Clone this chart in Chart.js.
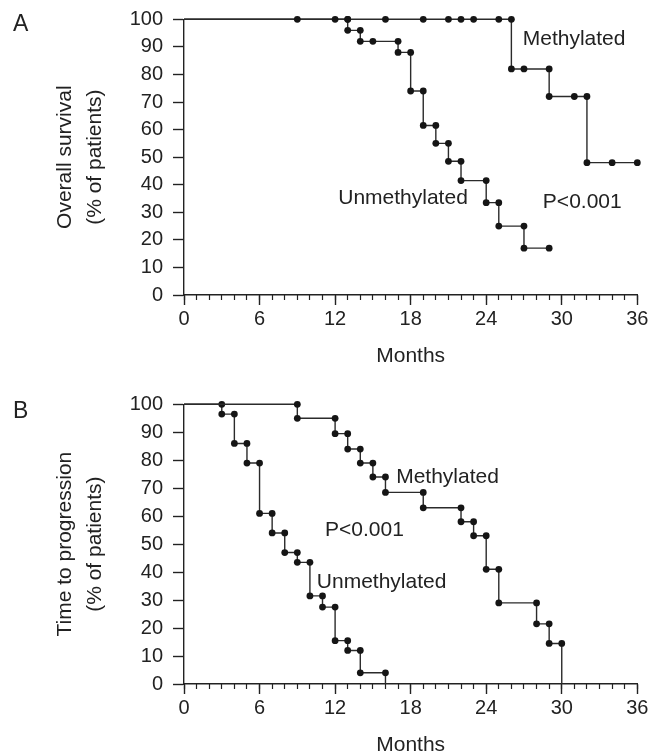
<!DOCTYPE html>
<html>
<head>
<meta charset="utf-8">
<script src="https://cdn.jsdelivr.net/npm/chart.js@4.4.1/dist/chart.umd.min.js"></script>
<style>
  html, body { margin: 0; padding: 0; background: #fff; overflow: hidden; }
  canvas { position: absolute; left: 0; }
  #chartA { top: 0; }
  #chartB { top: 376px; }
</style>
</head>
<body>
<canvas id="chartA" width="649" height="375"></canvas>
<canvas id="chartB" width="649" height="388"></canvas>
<script>
// step-curve vertices (months, % of patients)
const osMethylatedMonths = [0, 9, 12, 13, 16, 19, 21, 22, 23, 25, 26, 26, 27, 29, 29, 31, 32, 32, 34, 36];
const osMethylatedPct    = [100, 100, 100, 100, 100, 100, 100, 100, 100, 100, 100, 82, 82, 82, 72, 72, 72, 48, 48, 48];

const osUnmethylatedMonths = [0, 13, 13, 14, 14, 15, 17, 17, 18, 18, 19, 19, 20, 20, 21, 21, 22, 22, 24, 24, 25, 25, 27, 27, 29];
const osUnmethylatedPct    = [100, 100, 96, 96, 92, 92, 92, 88, 88, 74, 74, 61.5, 61.5, 55, 55, 48.5, 48.5, 41.5, 41.5, 33.5, 33.5, 25, 25, 17, 17];

const ttpMethylatedMonths = [0, 9, 9, 12, 12, 13, 13, 14, 14, 15, 15, 16, 16, 19, 19, 22, 22, 23, 23, 24, 24, 25, 25, 28, 28, 29, 29, 30, 30];
const ttpMethylatedPct    = [100, 100, 95, 95, 89.5, 89.5, 84, 84, 79, 79, 74, 74, 68.5, 68.5, 63, 63, 58, 58, 53, 53, 41, 41, 29, 29, 21.5, 21.5, 14.5, 14.5, 0];

const ttpUnmethylatedMonths = [0, 3, 3, 4, 4, 5, 5, 6, 6, 7, 7, 8, 8, 9, 9, 10, 10, 11, 11, 12, 12, 13, 13, 14, 14, 16, 16];
const ttpUnmethylatedPct    = [100, 100, 96.5, 96.5, 86, 86, 79, 79, 61, 61, 54, 54, 47, 47, 43.5, 43.5, 31.5, 31.5, 27.5, 27.5, 15.5, 15.5, 12, 12, 4, 4, 0];

const monthTicks = [0, 6, 12, 18, 24, 30, 36];
const pctTicks = [0, 10, 20, 30, 40, 50, 60, 70, 80, 90, 100];

const ink = '#222';
const family = '"Liberation Sans", Arial, Helvetica, sans-serif';
Chart.defaults.font.family = family;
Chart.defaults.color = ink;

// curve labels, anchored in data units
const textLabels = {
  id: 'textLabels',
  afterDraw(chart, args, opts) {
    const {ctx, scales} = chart;
    ctx.save();
    ctx.fillStyle = ink;
    ctx.textAlign = 'left';
    ctx.textBaseline = 'middle';
    ctx.font = '21px ' + family;
    (opts.items || []).forEach(it => {
      ctx.fillText(it.text, scales.x.getPixelForValue(it.x), scales.y.getPixelForValue(it.y));
    });
    if (opts.panel) {
      ctx.font = '23px ' + family;
      ctx.fillText(opts.panel.text, opts.panel.left, opts.panel.middle);
    }
    ctx.restore();
  }
};

const curve = (months, pct) => ({
  data: months.map((m, i) => ({x: m, y: pct[i]})),
  xAxisID: 'x',
  yAxisID: 'y',
  borderColor: '#2b2b2b',
  borderWidth: 1.4,
  tension: 0,
  fill: false,
  clip: false,
  pointRadius: c => (c.raw.x === 0 || c.raw.y === 0) ? 0 : 3.4,
  pointHoverRadius: 3.4,
  pointBackgroundColor: '#151515',
  pointBorderWidth: 0
});

function makeChart(id, datasets, yTitle, topPad, labels, panel) {
  return new Chart(document.getElementById(id), {
    type: 'line',
    data: {datasets},
    options: {
      responsive: false,
      animation: false,
      events: [],
      layout: {padding: {top: topPad, right: 11.7, bottom: 0, left: 0}, autoPadding: false},
      plugins: {
        legend: {display: false},
        tooltip: {enabled: false},
        textLabels: {items: labels, panel}
      },
      scales: {
        xMinor: {
          type: 'linear', axis: 'x', position: 'bottom', weight: 0, min: 0, max: 36,
          afterFit: s => { s.height = 0; s.paddingLeft = 0; s.paddingRight = 0; },
          border: {display: false},
          grid: {drawOnChartArea: false, tickLength: 5, tickColor: ink, tickWidth: 1.2},
          ticks: {display: false, stepSize: 1, autoSkip: false}
        },
        x: {
          type: 'linear', position: 'bottom', weight: 1, min: 0, max: 36,
          afterFit: s => { s.height = 80; s.paddingLeft = 0; s.paddingRight = 0; },
          afterBuildTicks: s => { s.ticks = monthTicks.map(v => ({value: v})); },
          border: {display: true, color: ink, width: 1.4},
          grid: {drawOnChartArea: false, tickLength: 10, tickColor: ink, tickWidth: 1.4},
          ticks: {autoSkip: false, maxRotation: 0, padding: 2, color: ink, font: {size: 20}},
          title: {display: true, text: 'Months', color: ink, font: {size: 21}, padding: {top: 0, bottom: 6}}
        },
        y: {
          type: 'linear', position: 'left', min: 0, max: 100,
          afterFit: s => { s.width = 184; s.paddingTop = 0; s.paddingBottom = 0; },
          afterBuildTicks: s => { s.ticks = pctTicks.map(v => ({value: v})); },
          border: {color: ink, width: 1.4},
          grid: {drawOnChartArea: false, tickLength: 11, tickColor: ink, tickWidth: 1.4},
          ticks: {padding: 10, color: ink, font: {size: 20}},
          title: {display: true, text: yTitle, color: ink, font: {size: 21, lineHeight: 1.43}, padding: {top: 50, bottom: 0}}
        }
      }
    },
    plugins: [textLabels]
  });
}

makeChart('chartA',
  [curve(osMethylatedMonths, osMethylatedPct), curve(osUnmethylatedMonths, osUnmethylatedPct)],
  ['Overall survival', '(% of patients)'], 19.3,
  [
    {text: 'Methylated', x: 26.9, y: 92.7},
    {text: 'P<0.001', x: 28.5, y: 33.8},
    {text: 'Unmethylated', x: 12.25, y: 35.1}
  ],
  {text: 'A', left: 13, middle: 25}
);

makeChart('chartB',
  [curve(ttpMethylatedMonths, ttpMethylatedPct), curve(ttpUnmethylatedMonths, ttpUnmethylatedPct)],
  ['Time to progression', '(% of patients)'], 28.3,
  [
    {text: 'Methylated', x: 16.85, y: 73.9},
    {text: 'P<0.001', x: 11.2, y: 55},
    {text: 'Unmethylated', x: 10.55, y: 36.5}
  ],
  {text: 'B', left: 13, middle: 35.7}
);
</script>
</body>
</html>
